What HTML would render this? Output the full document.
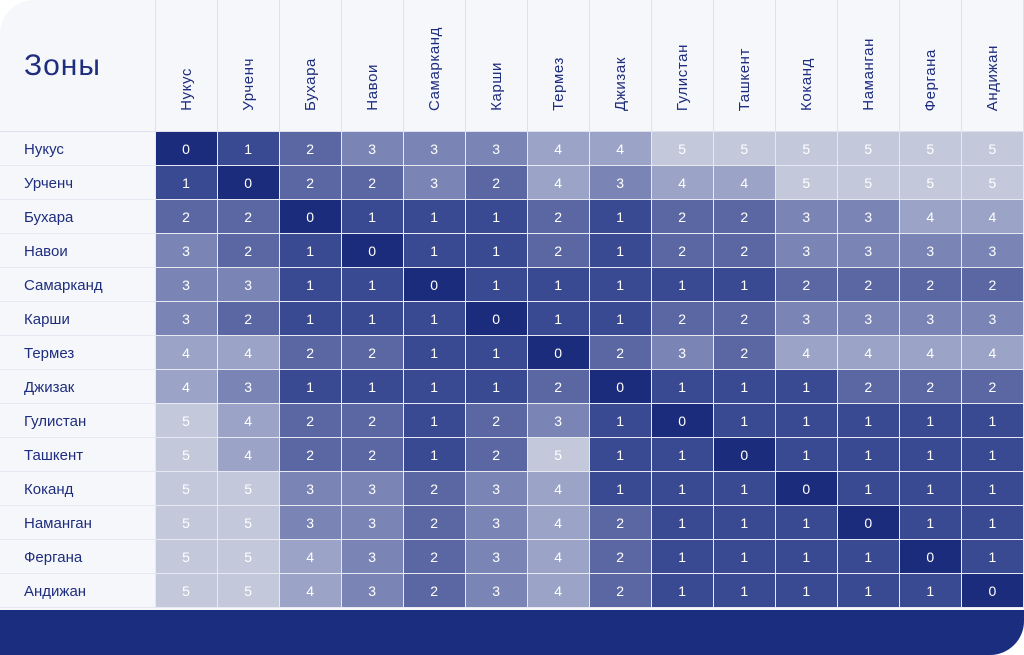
<!DOCTYPE html>
<html><head><meta charset="utf-8"><style>
html,body{margin:0;padding:0;background:#fff;}
.wrap{position:relative;width:1024px;height:655px;overflow:hidden;background:#f6f7fa;border-radius:34px 0 34px 0;font-family:"Liberation Sans","DejaVu Sans",sans-serif;}
table{position:absolute;left:0;top:0;border-collapse:collapse;table-layout:fixed;width:1024px;}
td,th{padding:0;text-align:center;font-size:14px;color:#fff;border:1px solid #dfe2ec;}
th{height:131px;font-weight:normal;color:#1e2d7e;vertical-align:bottom;}
th .r{display:inline-block;writing-mode:vertical-rl;transform:rotate(180deg);font-size:15px;letter-spacing:0.6px;white-space:nowrap;margin-bottom:17px;}
th.z{text-align:left;padding-left:24px;font-size:30px;color:#1e2d7e;letter-spacing:1px;vertical-align:middle;}
td{height:33px;border-color:#e6e9f1;}
td.n{text-align:left;padding-left:24px;color:#1e2d7e;font-size:15px;background:#f6f7fa;padding-top:2px;height:31px;}
.v0{background:#1c2c7c}.v1{background:#3a4a92}.v2{background:#5a67a3}.v3{background:#7a84b5}.v4{background:#9ba3c6}.v5{background:#c3c8db}
table td:first-child,table th:first-child{border-left:none}
th{border-top:none}
.bot{position:absolute;left:0;top:610px;width:1024px;height:45px;background:#1b2d7f;}
</style></head><body><div class="wrap">
<table>
<colgroup><col style="width:155px"><col span="14" style="width:62px"></colgroup>
<tr><th class="z">Зоны</th><th><span class="r">Нукус</span></th><th><span class="r">Урченч</span></th><th><span class="r">Бухара</span></th><th><span class="r">Навои</span></th><th><span class="r">Самарканд</span></th><th><span class="r">Карши</span></th><th><span class="r">Термез</span></th><th><span class="r">Джизак</span></th><th><span class="r">Гулистан</span></th><th><span class="r">Ташкент</span></th><th><span class="r">Коканд</span></th><th><span class="r">Наманган</span></th><th><span class="r">Фергана</span></th><th><span class="r">Андижан</span></th></tr>
<tr><td class="n">Нукус</td><td class="v0">0</td><td class="v1">1</td><td class="v2">2</td><td class="v3">3</td><td class="v3">3</td><td class="v3">3</td><td class="v4">4</td><td class="v4">4</td><td class="v5">5</td><td class="v5">5</td><td class="v5">5</td><td class="v5">5</td><td class="v5">5</td><td class="v5">5</td></tr>
<tr><td class="n">Урченч</td><td class="v1">1</td><td class="v0">0</td><td class="v2">2</td><td class="v2">2</td><td class="v3">3</td><td class="v2">2</td><td class="v4">4</td><td class="v3">3</td><td class="v4">4</td><td class="v4">4</td><td class="v5">5</td><td class="v5">5</td><td class="v5">5</td><td class="v5">5</td></tr>
<tr><td class="n">Бухара</td><td class="v2">2</td><td class="v2">2</td><td class="v0">0</td><td class="v1">1</td><td class="v1">1</td><td class="v1">1</td><td class="v2">2</td><td class="v1">1</td><td class="v2">2</td><td class="v2">2</td><td class="v3">3</td><td class="v3">3</td><td class="v4">4</td><td class="v4">4</td></tr>
<tr><td class="n">Навои</td><td class="v3">3</td><td class="v2">2</td><td class="v1">1</td><td class="v0">0</td><td class="v1">1</td><td class="v1">1</td><td class="v2">2</td><td class="v1">1</td><td class="v2">2</td><td class="v2">2</td><td class="v3">3</td><td class="v3">3</td><td class="v3">3</td><td class="v3">3</td></tr>
<tr><td class="n">Самарканд</td><td class="v3">3</td><td class="v3">3</td><td class="v1">1</td><td class="v1">1</td><td class="v0">0</td><td class="v1">1</td><td class="v1">1</td><td class="v1">1</td><td class="v1">1</td><td class="v1">1</td><td class="v2">2</td><td class="v2">2</td><td class="v2">2</td><td class="v2">2</td></tr>
<tr><td class="n">Карши</td><td class="v3">3</td><td class="v2">2</td><td class="v1">1</td><td class="v1">1</td><td class="v1">1</td><td class="v0">0</td><td class="v1">1</td><td class="v1">1</td><td class="v2">2</td><td class="v2">2</td><td class="v3">3</td><td class="v3">3</td><td class="v3">3</td><td class="v3">3</td></tr>
<tr><td class="n">Термез</td><td class="v4">4</td><td class="v4">4</td><td class="v2">2</td><td class="v2">2</td><td class="v1">1</td><td class="v1">1</td><td class="v0">0</td><td class="v2">2</td><td class="v3">3</td><td class="v2">2</td><td class="v4">4</td><td class="v4">4</td><td class="v4">4</td><td class="v4">4</td></tr>
<tr><td class="n">Джизак</td><td class="v4">4</td><td class="v3">3</td><td class="v1">1</td><td class="v1">1</td><td class="v1">1</td><td class="v1">1</td><td class="v2">2</td><td class="v0">0</td><td class="v1">1</td><td class="v1">1</td><td class="v1">1</td><td class="v2">2</td><td class="v2">2</td><td class="v2">2</td></tr>
<tr><td class="n">Гулистан</td><td class="v5">5</td><td class="v4">4</td><td class="v2">2</td><td class="v2">2</td><td class="v1">1</td><td class="v2">2</td><td class="v3">3</td><td class="v1">1</td><td class="v0">0</td><td class="v1">1</td><td class="v1">1</td><td class="v1">1</td><td class="v1">1</td><td class="v1">1</td></tr>
<tr><td class="n">Ташкент</td><td class="v5">5</td><td class="v4">4</td><td class="v2">2</td><td class="v2">2</td><td class="v1">1</td><td class="v2">2</td><td class="v5">5</td><td class="v1">1</td><td class="v1">1</td><td class="v0">0</td><td class="v1">1</td><td class="v1">1</td><td class="v1">1</td><td class="v1">1</td></tr>
<tr><td class="n">Коканд</td><td class="v5">5</td><td class="v5">5</td><td class="v3">3</td><td class="v3">3</td><td class="v2">2</td><td class="v3">3</td><td class="v4">4</td><td class="v1">1</td><td class="v1">1</td><td class="v1">1</td><td class="v0">0</td><td class="v1">1</td><td class="v1">1</td><td class="v1">1</td></tr>
<tr><td class="n">Наманган</td><td class="v5">5</td><td class="v5">5</td><td class="v3">3</td><td class="v3">3</td><td class="v2">2</td><td class="v3">3</td><td class="v4">4</td><td class="v2">2</td><td class="v1">1</td><td class="v1">1</td><td class="v1">1</td><td class="v0">0</td><td class="v1">1</td><td class="v1">1</td></tr>
<tr><td class="n">Фергана</td><td class="v5">5</td><td class="v5">5</td><td class="v4">4</td><td class="v3">3</td><td class="v2">2</td><td class="v3">3</td><td class="v4">4</td><td class="v2">2</td><td class="v1">1</td><td class="v1">1</td><td class="v1">1</td><td class="v1">1</td><td class="v0">0</td><td class="v1">1</td></tr>
<tr><td class="n">Андижан</td><td class="v5">5</td><td class="v5">5</td><td class="v4">4</td><td class="v3">3</td><td class="v2">2</td><td class="v3">3</td><td class="v4">4</td><td class="v2">2</td><td class="v1">1</td><td class="v1">1</td><td class="v1">1</td><td class="v1">1</td><td class="v1">1</td><td class="v0">0</td></tr>
</table>
<div class="bot"></div>
</div></body></html>
